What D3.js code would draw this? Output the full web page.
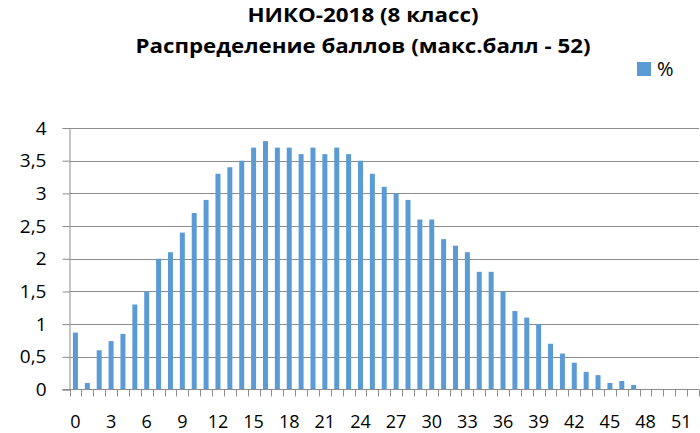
<!DOCTYPE html>
<html>
<head>
<meta charset="utf-8">
<script src="https://cdn.jsdelivr.net/npm/d3@7"></script>
<style>
  body { margin: 0; background: #fff; }
  svg { font-family: "Open Sans", sans-serif; }
</style>
</head>
<body>
<svg id="chart" width="700" height="433"></svg>
<script>
// scores 0..52 and share of participants, %
var scores = d3.range(0, 53);
var percents = [
  0.87, 0.1, 0.6, 0.74, 0.85, 1.3, 1.5, 2.0, 2.1, 2.4,
  2.7, 2.9, 3.3, 3.4, 3.5, 3.7, 3.8, 3.7, 3.7, 3.6,
  3.7, 3.6, 3.7, 3.6, 3.5, 3.3, 3.1, 3.0, 2.9, 2.6,
  2.6, 2.3, 2.2, 2.1, 1.8, 1.8, 1.5, 1.2, 1.1, 1.0,
  0.7, 0.55, 0.41, 0.27, 0.22, 0.1, 0.13, 0.07, 0, 0,
  0, 0, 0
];
var yTicks = [0, 0.5, 1, 1.5, 2, 2.5, 3, 3.5, 4];
var titleLines = ['НИКО-2018 (8 класс)', 'Распределение баллов (макс.балл - 52)'];
var seriesName = '%';

var svg = d3.select('#chart');
var plotLeft = 69.5, plotRight = 699, plotTop = 128, plotBottom = 389.5;
var barColor = '#5b9bd5', gridColor = '#8c8c8c';

var x = d3.scaleBand()
  .domain(scores)
  .range([plotLeft, plotRight])
  .paddingInner(0.58)
  .paddingOuter(0.29);

var y = d3.scaleLinear()
  .domain([0, 4])
  .range([plotBottom, plotTop]);

var fmt = function(d) { return String(d).replace('.', ','); };

// ----- grid + y axis -----
svg.append('g')
  .attr('transform', 'translate(' + plotLeft + ',0)')
  .call(d3.axisLeft(y).tickValues(yTicks).tickSize(7).tickFormat(fmt).tickPadding(16))
  .call(function(g) {
    g.attr('font-family', null);
    g.select('.domain').attr('stroke', gridColor);
    g.selectAll('.tick line').attr('stroke', gridColor);
    g.selectAll('.tick text').attr('font-size', 19).attr('fill', '#000');
  });

svg.append('g').selectAll('line')
  .data(yTicks.filter(function(d) { return d > 0; }))
  .enter().append('line')
  .attr('x1', plotLeft).attr('x2', plotRight)
  .attr('y1', function(d) { return Math.round(y(d)) + 0.5; })
  .attr('y2', function(d) { return Math.round(y(d)) + 0.5; })
  .attr('stroke', gridColor);

// ----- bars -----
svg.append('g').selectAll('rect')
  .data(percents)
  .enter().append('rect')
  .attr('x', function(d, i) { return x(scores[i]); })
  .attr('width', x.bandwidth())
  .attr('y', function(d) { return y(d); })
  .attr('height', function(d) { return y(0) - y(d); })
  .attr('fill', barColor);

// ----- x axis -----
var step = x.step();
var xAxis = svg.append('g').attr('transform', 'translate(0,' + plotBottom + ')');
xAxis.append('line')
  .attr('x1', plotLeft - 7).attr('x2', plotRight)
  .attr('stroke', gridColor);
xAxis.selectAll('line.tk')
  .data(d3.range(0, scores.length + 1))
  .enter().append('line')
  .attr('class', 'tk')
  .attr('x1', function(i) { return Math.round(plotLeft + i * step) + 0.5; })
  .attr('x2', function(i) { return Math.round(plotLeft + i * step) + 0.5; })
  .attr('y1', 0).attr('y2', 7)
  .attr('stroke', gridColor);
xAxis.selectAll('text')
  .data(scores.filter(function(d) { return d % 3 === 0; }))
  .enter().append('text')
  .attr('x', function(d) { return x(d) + x.bandwidth() / 2; })
  .attr('y', 38.5)
  .attr('text-anchor', 'middle')
  .attr('font-size', 18)
  .text(function(d) { return d; });

// ----- title -----
svg.append('text')
  .attr('x', 363).attr('y', 22)
  .attr('text-anchor', 'middle')
  .attr('font-size', 19).attr('font-weight', 'bold')
  .attr('textLength', 231).attr('lengthAdjust', 'spacingAndGlyphs')
  .text(titleLines[0]);
svg.append('text')
  .attr('x', 363).attr('y', 53)
  .attr('text-anchor', 'middle')
  .attr('font-size', 19).attr('font-weight', 'bold')
  .attr('textLength', 455).attr('lengthAdjust', 'spacingAndGlyphs')
  .text(titleLines[1]);

// ----- legend -----
svg.append('rect')
  .attr('x', 637).attr('y', 62)
  .attr('width', 14).attr('height', 14)
  .attr('fill', barColor);
svg.append('text')
  .attr('x', 657).attr('y', 76)
  .attr('font-size', 20)
  .text(seriesName);
</script>
</body>
</html>
